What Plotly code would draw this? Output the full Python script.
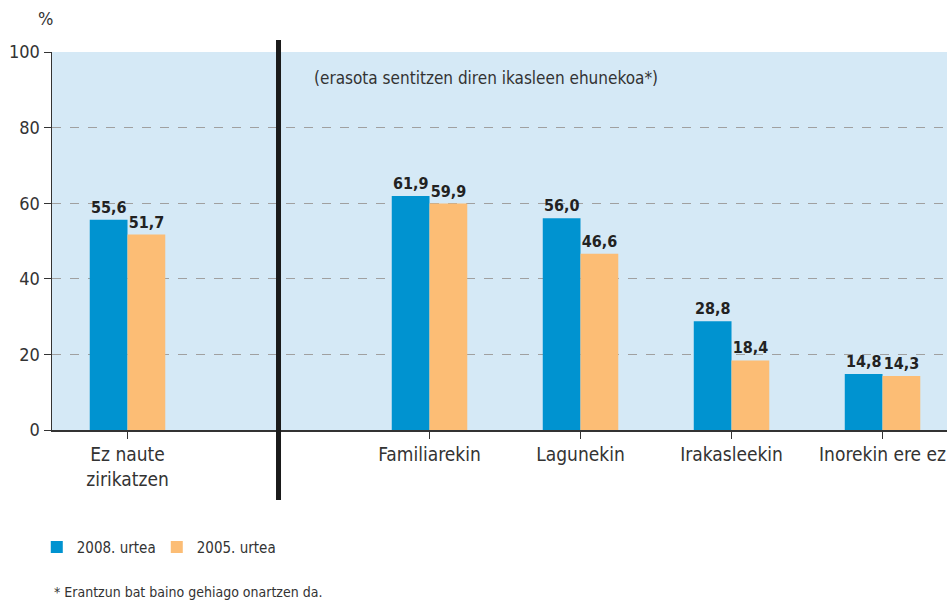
import plotly.graph_objects as go

x_idx = [0, 1, 2, 3, 4, 5]
tick_text = ["Ez naute<br>zirikatzen", "", "Familiarekin", "Lagunekin", "Irakasleekin", "Inorekin ere ez"]
v2008 = [55.6, None, 61.9, 56.0, 28.8, 14.8]
v2005 = [51.7, None, 59.9, 46.6, 18.4, 14.3]
y_ticks = [0, 20, 40, 60, 80, 100]

FONT = "Liberation Sans Narrow, DejaVu Sans Condensed, sans-serif"

def fmt(v):
    return "" if v is None else f"{v:.1f}".replace(".", ",")

fig = go.Figure()
fig.add_trace(go.Bar(x=x_idx, y=v2008, name="2008. urtea", marker_color="#0093d0",
                     text=[fmt(v) for v in v2008], textposition="outside", cliponaxis=False,
                     textfont=dict(family=FONT, size=16, color="#222222"), marker_line_width=0))
fig.add_trace(go.Bar(x=x_idx, y=v2005, name="2005. urtea", marker_color="#fcbd75",
                     text=[fmt(v) for v in v2005], textposition="outside", cliponaxis=False,
                     textfont=dict(family=FONT, size=16, color="#222222"), marker_line_width=0))
fig.update_traces(texttemplate="<b>%{text}</b>")

fig.add_shape(type="line", xref="x", yref="paper", x0=1, x1=1, y0=-0.185, y1=1.032,
              line=dict(color="#1a1a1a", width=5))

fig.add_annotation(xref="paper", yref="paper", x=0.003, y=1.055, xanchor="right", yanchor="bottom",
                   text="%", showarrow=False, font=dict(family=FONT, size=18, color="#333333"))
fig.add_annotation(xref="x", yref="y", x=1.22, y=93, xanchor="left", yanchor="middle",
                   text="(erasota sentitzen diren ikasleen ehunekoa*)", showarrow=False,
                   font=dict(family=FONT, size=17, color="#333333"))
fig.add_annotation(xref="paper", yref="paper", x=0.0, y=-0.428, xanchor="left", yanchor="middle",
                   text="* Erantzun bat baino gehiago onartzen da.", showarrow=False,
                   font=dict(family=FONT, size=14, color="#333333"))

fig.update_layout(
    width=947, height=601,
    margin=dict(l=52, r=0, t=52, b=171, autoexpand=False),
    paper_bgcolor="white", plot_bgcolor="#d5e9f6",
    barmode="group", bargap=0.5, bargroupgap=0,
    showlegend=True,
    legend=dict(orientation="h", x=-0.017, y=-0.31, xanchor="left", yanchor="middle",
                font=dict(family=FONT, size=15, color="#333333"),
                entrywidth=75, entrywidthmode="pixels", traceorder="normal"),
    font=dict(family=FONT, color="#333333"),
    hovermode=False,
)
fig.update_xaxes(range=[-0.5, 5.427], tickmode="array", tickvals=x_idx, ticktext=tick_text,
                 tickson="boundaries", ticks="outside", ticklen=7, tickcolor="#333333",
                 showline=True, linecolor="#333333", linewidth=1.5, showgrid=False,
                 automargin=False,
                 tickfont=dict(family=FONT, size=19, color="#333333"), fixedrange=True)
fig.update_yaxes(range=[0, 100], tickvals=y_ticks, ticks="outside", ticklen=7,
                 tickcolor="#333333", showline=True, linecolor="#333333", linewidth=1.5,
                 showgrid=True, gridcolor="#a0a0a0", griddash="dash", gridwidth=1,
                 zeroline=False, automargin=False, fixedrange=True,
                 tickfont=dict(family=FONT, size=18, color="#333333"))

fig.write_html(
    "out.html",
    config={"displayModeBar": False, "staticPlot": True},
    post_script="document.body.style.margin='0';document.body.style.overflow='hidden';"
                "document.documentElement.style.overflow='hidden';",
)
